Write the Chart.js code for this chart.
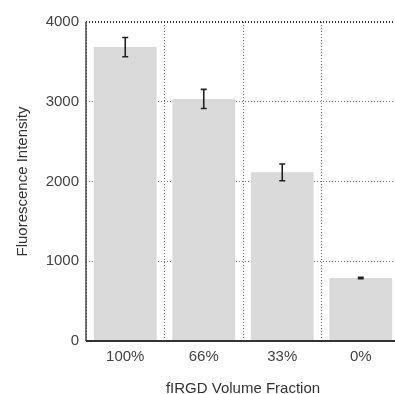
<!DOCTYPE html>
<html>
<head>
<meta charset="utf-8">
<script src="https://cdn.jsdelivr.net/npm/chart.js@4/dist/chart.umd.min.js"></script>
<style>
html,body{margin:0;padding:0;background:#fff;overflow:hidden;}
#wrap{width:400px;height:394px;position:relative;}
</style>
</head>
<body>
<div id="wrap"><canvas id="c" width="400" height="394"></canvas></div>
<script>
const categories = ["100%", "66%", "33%", "0%"];
const intensity = [3685, 3035, 2115, 790];
const errors = [120, 120, 105, 10];
const yTicks = [0, 1000, 2000, 3000, 4000];

const errorBars = {
  id: 'errorBars',
  afterDatasetsDraw(chart) {
    const ctx = chart.ctx;
    const meta = chart.getDatasetMeta(0);
    const y = chart.scales.y;
    ctx.save();
    ctx.strokeStyle = '#222';
    ctx.lineWidth = 1.6;
    meta.data.forEach((bar, i) => {
      const x = bar.x;
      const top = y.getPixelForValue(intensity[i] + errors[i]);
      const bot = y.getPixelForValue(intensity[i] - errors[i]);
      ctx.beginPath();
      ctx.moveTo(x, top); ctx.lineTo(x, bot);
      ctx.moveTo(x - 3, top); ctx.lineTo(x + 3, top);
      ctx.moveTo(x - 3, bot); ctx.lineTo(x + 3, bot);
      ctx.stroke();
    });
    ctx.restore();
  }
};

const solidAxes = {
  id: 'solidAxes',
  afterDatasetsDraw(chart) {
    const { ctx, chartArea: a } = chart;
    ctx.save();
    ctx.setLineDash([]);
    ctx.strokeStyle = '#444';
    ctx.lineWidth = 1.5;
    ctx.beginPath();
    ctx.moveTo(a.left, a.top); ctx.lineTo(a.left, a.bottom);
    ctx.stroke();
    ctx.strokeStyle = '#333';
    ctx.lineWidth = 2;
    ctx.beginPath();
    ctx.moveTo(a.left, a.bottom); ctx.lineTo(a.right, a.bottom);
    ctx.stroke();
    ctx.restore();
  }
};

Chart.defaults.font.family = '"Liberation Sans", Arial, sans-serif';
Chart.defaults.color = '#444';

new Chart(document.getElementById('c'), {
  type: 'bar',
  data: {
    labels: categories,
    datasets: [{
      data: intensity,
      backgroundColor: '#dadada',
      borderWidth: 0,
      categoryPercentage: 0.8,
      barPercentage: 1.0
    }]
  },
  options: {
    responsive: false,
    animation: false,
    layout: { padding: { top: 22, left: 14, right: 0, bottom: 0 } },
    plugins: { legend: { display: false }, tooltip: { enabled: false } },
    scales: {
      x: {
        offset: true,
        grid: {
          offset: true,
          color: '#777',
          lineWidth: 1,
          drawTicks: false
        },
        border: { display: false, dash: [1, 2] },
        ticks: { font: { size: 15 }, padding: 7, color: '#444' },
        title: { display: true, text: 'fIRGD Volume Fraction', font: { size: 15 }, color: '#333', padding: { top: 12, bottom: -4 } },
        afterFit(s) { s.height = 53; }
      },
      y: {
        min: 0, max: 4000,
        afterBuildTicks(s) { s.ticks = yTicks.map(v => ({ value: v })); },
        grid: {
          color: (c) => c.tick && c.tick.value === 4000 ? '#333' : '#777',
          lineWidth: (c) => c.tick && c.tick.value === 4000 ? 2 : 1,
          drawTicks: false
        },
        border: { display: false, dash: [1, 2] },
        ticks: { font: { size: 15 }, padding: 7, color: '#444', callback: (v) => String(v) },
        title: { display: true, text: 'Fluorescence Intensity', font: { size: 15 }, color: '#333', padding: { top: 0, bottom: 0 } },
        afterFit(s) { s.width = 72; }
      }
    }
  },
  plugins: [errorBars, solidAxes]
});
</script>
</body>
</html>
